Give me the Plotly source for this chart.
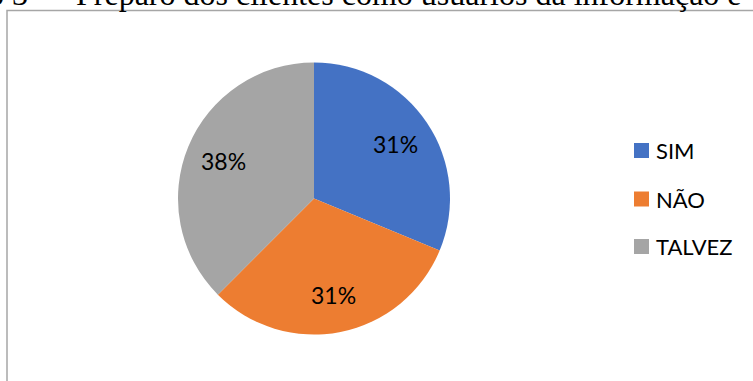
import math
import plotly.graph_objects as go

# Survey answers
labels = ["SIM", "NÃO", "TALVEZ"]
counts = [5, 5, 6]
colors = ["#4472C4", "#ED7D31", "#A5A5A5"]
title_text = "o 3 — Preparo dos clientes como usuários da informação e"

W, H = 753, 381
cx, cy, R = 314, 198.5, 136  # pie centre and radius in pixels


def px(x):
    return x / W


def py(y):
    return 1 - y / H


fig = go.Figure(
    go.Pie(
        labels=labels,
        values=counts,
        marker=dict(colors=colors, line=dict(width=0)),
        sort=False,
        direction="clockwise",
        rotation=0,
        textinfo="none",
        hoverinfo="label+percent",
        showlegend=False,
        domain=dict(x=[px(cx - R), px(cx + R)], y=[py(cy + R), py(cy - R)]),
    )
)

annotations = []
shapes = []

# percentage labels along each slice bisector
total = sum(counts)
start = 0.0
for v in counts:
    frac = v / total
    mid = (start + frac / 2) * 2 * math.pi
    start += frac
    r = 0.72 * R
    x = cx + r * math.sin(mid)
    y = cy - r * math.cos(mid)
    annotations.append(dict(
        x=px(x), y=py(y), xref="paper", yref="paper",
        text=f"{round(frac * 100)}%", showarrow=False,
        font=dict(family="Lato", size=23, color="#000000"),
        xanchor="center", yanchor="middle",
    ))

# legend
leg_y = [150.5, 199, 246.5]
for lab, col, ly in zip(labels, colors, leg_y):
    shapes.append(dict(
        type="rect", xref="paper", yref="paper",
        x0=px(634), x1=px(649), y0=py(ly + 7.5), y1=py(ly - 7.5),
        fillcolor=col, line=dict(width=0),
    ))
    annotations.append(dict(
        x=px(654), y=py(ly), xref="paper", yref="paper",
        text=lab, showarrow=False,
        font=dict(family="Lato", size=22, color="#000000"),
        xanchor="left", yanchor="middle",
    ))

# chart frame
shapes.append(dict(
    type="rect", xref="paper", yref="paper",
    x0=px(7), x1=px(W + 20), y0=py(H + 20), y1=py(10.5),
    line=dict(color="#A6A6A6", width=1.5), fillcolor="rgba(0,0,0,0)",
))

# caption line above the frame
annotations.append(dict(
    x=px(-14), y=py(14), xref="paper", yref="paper",
    text=title_text, showarrow=False,
    font=dict(family="Liberation Serif", size=32, color="#000000"),
    xanchor="left", yanchor="bottom",
))

fig.update_layout(
    width=W, height=H,
    margin=dict(l=0, r=0, t=0, b=0),
    paper_bgcolor="white", plot_bgcolor="white",
    annotations=annotations, shapes=shapes,
)

fig.write_html("out.html")
